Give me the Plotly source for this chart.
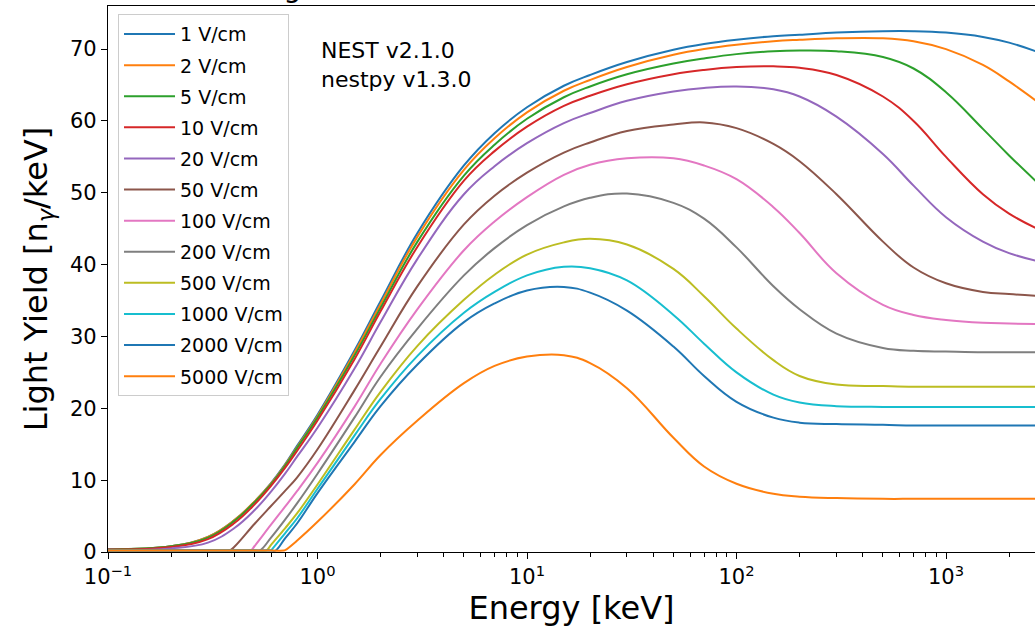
import plotly.graph_objects as go

# Beta electronic-recoil light yield in LXe vs deposited energy, one curve per drift field
energy_kev = [0.1, 0.2, 0.3, 0.4, 0.5, 0.6, 0.7, 0.8, 1, 1.5, 2, 3, 5, 7, 10, 15, 20, 30,
              50, 70, 100, 150, 200, 300, 500, 700, 1000, 1500, 2000, 3000]

field_labels = ["1 V/cm", "2 V/cm", "5 V/cm", "10 V/cm", "20 V/cm", "50 V/cm", "100 V/cm",
                "200 V/cm", "500 V/cm", "1000 V/cm", "2000 V/cm", "5000 V/cm"]

# energy below which the yield sits on the floor (None: no sharp onset)
onset_kev = [None, None, None, None, None, 0.38, 0.48, 0.53, 0.57, 0.60, 0.63, 0.69]
floor_yield = 0.2

ly_1 = [0.4, 0.8, 2.1, 4.4, 7.0, 9.6, 12.2, 14.8, 19.1, 28.0, 34.9, 44.4, 53.8, 58.3, 61.9,
        64.9, 66.4, 68.2, 69.9, 70.7, 71.3, 71.8, 72.0, 72.3, 72.5, 72.5, 72.3, 71.7, 70.9, 69.2]
ly_2 = [0.4, 0.8, 2.1, 4.4, 7.0, 9.5, 12.1, 14.6, 18.9, 27.7, 34.5, 43.9, 53.2, 57.6, 61.2,
        64.2, 65.7, 67.5, 69.2, 70.0, 70.6, 71.1, 71.3, 71.5, 71.5, 71.1, 70.0, 67.8, 65.5, 61.8]
ly_5 = [0.4, 0.8, 2.0, 4.3, 6.9, 9.4, 12.0, 14.5, 18.7, 27.3, 34.0, 43.2, 52.4, 56.7, 60.3,
        63.3, 64.8, 66.5, 68.0, 68.7, 69.3, 69.7, 69.8, 69.7, 68.9, 67.3, 64.0, 58.9, 55.2, 50.3]
ly_10 = [0.35, 0.7, 1.8, 4.0, 6.6, 9.2, 11.7, 14.1, 18.3, 26.8, 33.5, 42.5, 51.7, 55.8, 59.2,
         62.1, 63.5, 65.1, 66.5, 67.1, 67.5, 67.6, 67.4, 66.4, 63.4, 60.0, 55.0, 49.8, 47.1, 44.4]
ly_20 = [0.3, 0.5, 1.3, 3.3, 5.8, 8.4, 10.9, 13.3, 17.3, 25.5, 32.0, 40.8, 49.8, 53.7, 56.9,
         59.7, 61.1, 62.8, 64.1, 64.6, 64.8, 64.4, 63.4, 60.6, 55.4, 51.0, 46.6, 43.2, 41.6, 40.2]
ly_50 = [0.2, 0.2, 0.2, 0.7, 3.9, 6.4, 8.5, 10.4, 14.3, 22.5, 28.6, 37.0, 45.6, 49.6, 52.8,
         55.6, 57.0, 58.6, 59.5, 59.8, 59.0, 56.8, 54.4, 49.8, 43.2, 39.6, 37.4, 36.2, 35.9, 35.6]
ly_100 = [0.2, 0.2, 0.2, 0.2, 0.8, 3.8, 6.3, 8.5, 12.4, 20.2, 26.2, 33.8, 42.0, 46.0, 49.4,
          52.5, 53.9, 54.8, 54.8, 53.8, 51.9, 48.0, 44.4, 38.8, 34.4, 33.0, 32.3, 31.9, 31.8, 31.7]
ly_200 = [0.2, 0.2, 0.2, 0.2, 0.2, 2.0, 4.5, 6.8, 10.9, 18.7, 24.4, 31.1, 38.5, 42.3, 45.5,
          48.1, 49.3, 49.9, 48.6, 46.4, 42.4, 37.0, 33.8, 30.4, 28.4, 28.0, 27.9, 27.8, 27.8, 27.8]
ly_500 = [0.2, 0.2, 0.2, 0.2, 0.2, 1.0, 3.3, 5.4, 9.4, 17.0, 22.3, 28.7, 35.1, 38.6, 41.4,
          43.1, 43.6, 42.8, 39.4, 35.6, 31.1, 26.7, 24.5, 23.3, 23.1, 23.0, 23.0, 23.0, 23.0, 23.0]
ly_1000 = [0.2, 0.2, 0.2, 0.2, 0.2, 0.2, 2.6, 4.7, 8.8, 16.2, 21.3, 27.3, 33.3, 36.2, 38.5,
           39.7, 39.5, 37.8, 33.0, 29.0, 25.0, 21.9, 20.8, 20.3, 20.2, 20.2, 20.2, 20.2, 20.2, 20.2]
ly_2000 = [0.2, 0.2, 0.2, 0.2, 0.2, 0.2, 1.9, 4.0, 8.2, 15.3, 20.3, 26.1, 32.0, 34.6, 36.4,
           36.9, 36.1, 33.6, 28.6, 24.5, 20.9, 18.7, 18.0, 17.8, 17.7, 17.6, 17.6, 17.6, 17.6, 17.6]
ly_5000 = [0.2, 0.2, 0.2, 0.2, 0.2, 0.2, 0.25, 1.6, 4.2, 9.4, 13.5, 18.3, 23.5, 25.9, 27.2,
           27.4, 26.3, 22.8, 15.9, 11.9, 9.5, 8.1, 7.7, 7.5, 7.4, 7.4, 7.4, 7.4, 7.4, 7.4]

yields = [ly_1, ly_2, ly_5, ly_10, ly_20, ly_50, ly_100, ly_200, ly_500, ly_1000, ly_2000, ly_5000]

# matplotlib "tab10" cycle
colors = ["#1f77b4", "#ff7f0e", "#2ca02c", "#d62728", "#9467bd", "#8c564b", "#e377c2",
          "#7f7f7f", "#bcbd22", "#17becf", "#1f77b4", "#ff7f0e"]

x_ticks = [0.1, 1, 10, 100, 1000]
x_tick_text = ["10<sup>\u22121</sup>", "10<sup>0</sup>", "10<sup>1</sup>", "10<sup>2</sup>", "10<sup>3</sup>"]
x_minor = [m * 10 ** d for d in range(-1, 4) for m in range(2, 10)]
y_ticks = [0, 10, 20, 30, 40, 50, 60, 70]

FONT = "DejaVu Sans"

fig = go.Figure()
for label, ys, onset, color in zip(field_labels, yields, onset_kev, colors):
    xs, vs = list(energy_kev), list(ys)
    if onset is not None:
        # insert the kink where the yield leaves the floor
        i = next(k for k, e in enumerate(xs) if e > onset)
        xs.insert(i, onset)
        vs.insert(i, floor_yield)
    fig.add_trace(go.Scatter(
        x=xs, y=vs, mode="lines", name=label, legendgroup=label,
        line=dict(color=color, width=2, shape="spline", smoothing=1.15),
    ))

axis_common = dict(
    showline=True, linecolor="black", linewidth=1.3, showgrid=False, zeroline=False,
    ticks="outside", tickcolor="black", tickwidth=1.3, ticklen=6,
    tickfont=dict(family=FONT, size=21, color="black"),
)

fig.update_layout(
    width=1035, height=634,
    margin=dict(l=108, r=0, t=6, b=82),
    paper_bgcolor="white", plot_bgcolor="white",
    font=dict(family=FONT, color="black"),
    xaxis=dict(
        type="log", range=[-1, 3.4248], mirror=True,
        tickmode="array", tickvals=x_ticks, ticktext=x_tick_text,
        minor=dict(tickmode="array", tickvals=x_minor, ticks="outside", ticklen=3.5,
                   tickwidth=1, tickcolor="black"),
        title=dict(text="Energy [keV]", font=dict(family=FONT, size=32, color="black"), standoff=8),
        **axis_common,
    ),
    yaxis=dict(
        range=[0, 76.0], mirror=False,
        tickmode="array", tickvals=y_ticks,
        title=dict(text="Light Yield [n<sub><i>\u03b3</i></sub>/keV]",
                   font=dict(family=FONT, size=32, color="black"), standoff=12),
        **axis_common,
    ),
    legend=dict(
        x=0.0108, y=0.985, xanchor="left", yanchor="top",
        bgcolor="rgba(255,255,255,0.8)", bordercolor="#cccccc", borderwidth=1,
        font=dict(family=FONT, size=19, color="black"),
        tracegroupgap=3.4, itemwidth=51,
    ),
    showlegend=True,
)

fig.add_annotation(
    text="NEST v2.1.0<br>nestpy v1.3.0", xref="paper", yref="paper",
    x=(319 - 108) / 927, y=(552 - 36) / 546, xanchor="left", yanchor="top",
    showarrow=False, align="left",
    font=dict(family=FONT, size=22, color="black"),
)

# figure title, sitting above the axes frame
fig.add_annotation(
    text="Light Yield vs Field, Beta Electronic Recoils", xref="paper", yref="paper",
    x=(258 - 108) / 927, y=1.0, xanchor="left", yanchor="bottom",
    showarrow=False, font=dict(family=FONT, size=28, color="black"),
)

fig.write_html("out.html")
